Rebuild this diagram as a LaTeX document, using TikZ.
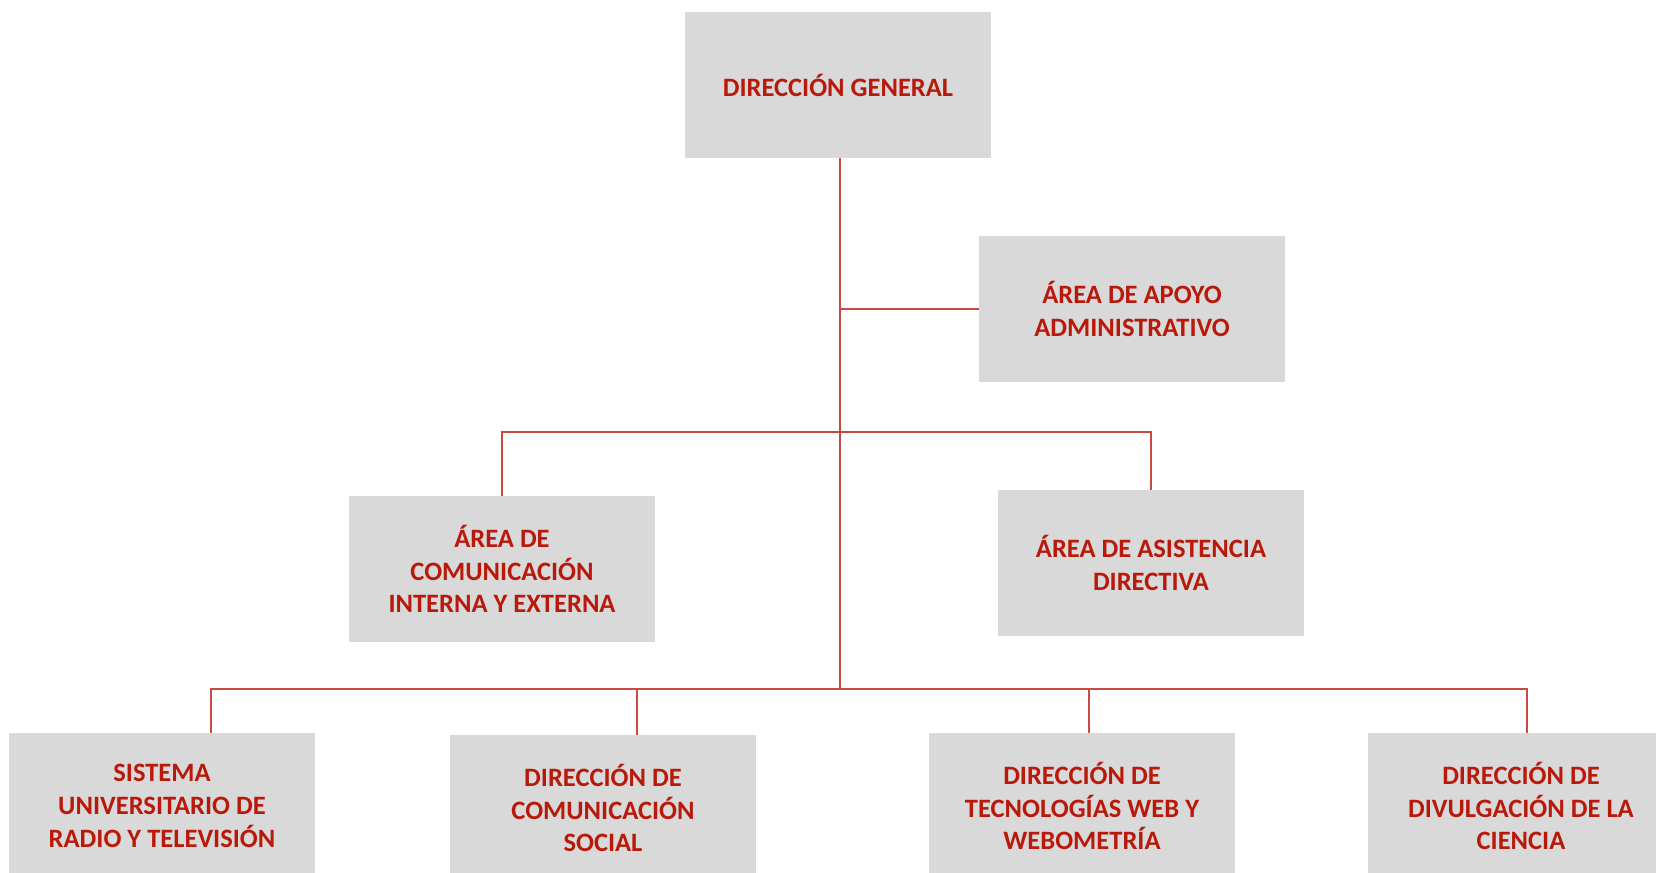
\documentclass[tikz,border=0pt]{standalone}
\usepackage{fontspec}
\setmainfont{Carlito}
\usepackage{tikz}
\usetikzlibrary{positioning,calc}
\definecolor{boxgray}{RGB}{217,217,217}
\definecolor{boxtext}{RGB}{185,25,10}
\definecolor{linkred}{RGB}{200,75,65}

\begin{document}
\begin{tikzpicture}[x=0.02cm, y=-0.02cm,
    box/.style={fill=boxgray, draw=none, inner sep=0pt, minimum width=6.12cm, minimum height=2.92cm,
      align=center, text=boxtext, font=\fontsize{15.1pt}{18.6pt}\selectfont\bfseries},
    link/.style={draw=linkred, line width=0.7pt}]
      \useasboundingbox (0,0) rectangle (1656,872);

      \node[box] (dg) at (838, 85) {DIRECCIÓN GENERAL};
      \node[box] (apoyo) at (1132, 309) {ÁREA DE APOYO\\ADMINISTRATIVO};
      \node[box] (comint) at (502, 569) {ÁREA DE\\COMUNICACIÓN\\INTERNA Y EXTERNA};
      \node[box] (asist) at (1151, 563) {ÁREA DE ASISTENCIA\\DIRECTIVA};

      \node[box] (radio) at (162, 806) {SISTEMA\\UNIVERSITARIO DE\\RADIO Y TELEVISIÓN};
      \node[box] (comsoc) at (603, 808) {DIRECCIÓN DE\\COMUNICACIÓN\\SOCIAL};
      \node[box] (webo) at (1082, 806) {DIRECCIÓN DE\\TECNOLOGÍAS WEB Y\\WEBOMETRÍA};
      \node[box] (divul) at (1521, 806) {DIRECCIÓN DE\\DIVULGACIÓN DE LA\\CIENCIA};

      \coordinate (midbus) at (840, 432);
      \coordinate (lowbus) at (840, 689);

      \draw[link] (dg.south -| lowbus) -- (lowbus);
      \draw[link] (apoyo.west -| lowbus) -- (apoyo.west);

      \draw[link] (comint.north) |- (midbus) -| (asist.north);

      \draw[link] ([xshift=0.98cm]radio.north) |- (lowbus) -| ([xshift=0.12cm]divul.north);
      \draw[link] ([xshift=0.68cm]comsoc.north) -- ([xshift=0.68cm]comsoc.north |- lowbus);
      \draw[link] ([xshift=0.14cm]webo.north) -- ([xshift=0.14cm]webo.north |- lowbus);
\end{tikzpicture}
\end{document}
